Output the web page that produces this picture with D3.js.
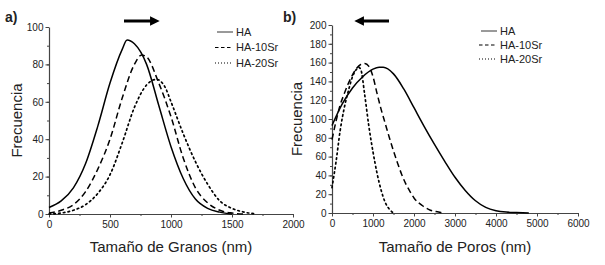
<!DOCTYPE html>
<html>
<head>
<meta charset="utf-8">
<script src="https://cdn.jsdelivr.net/npm/d3@7"></script>
<style>
body { margin:0; background:#fff; }
svg text { font-family: "Liberation Sans", Arial, sans-serif; fill:#222; }
.axis path, .axis line { stroke:#444; }
</style>
</head>
<body>
<div id="graph"></div>
<script>
// series names
const seriesNames = ["HA", "HA-10Sr", "HA-20Sr"];

// a) grain size distribution  [nm, frecuencia]
const granosHA = [[0,3.5],[100,7],[200,14],[300,27],[400,47],[500,70],[600,88],[640,93],[700,91],[800,80],[900,58],[1000,36],[1100,19],[1200,8],[1300,3],[1400,1],[1500,0]];
const granos10Sr = [[0,0.5],[100,2],[200,5],[300,12],[400,24],[500,40],[600,62],[700,80],[760,85],[800,84],[900,70],[1000,52],[1100,30],[1200,14],[1300,6],[1400,2],[1500,0.5],[1600,0]];
const granos20Sr = [[0,0],[100,0.5],[200,2],[300,5],[400,11],[500,21],[600,38],[700,57],[800,69],[880,72],[950,68],[1000,60],[1100,43],[1200,28],[1300,16],[1400,7],[1500,3],[1600,1],[1700,0]];

// b) pore size distribution
const porosHA = [[0,93],[250,116],[500,133],[750,145],[1000,153],[1150,155],[1250,155],[1500,148],[1750,132],[2000,112],[2250,92],[2500,73],[2750,55],[3000,38],[3250,24],[3500,13],[3750,6],[4000,2.5],[4250,1],[4500,0.5],[4800,0]];
const poros10Sr = [[0,78],[100,98],[200,115],[300,127],[400,138],[500,147],[600,154],[700,158],[800,159],[900,156],[1000,145],[1100,127],[1200,110],[1300,95],[1400,80],[1500,66],[1600,53],[1700,41],[1800,31],[1900,23],[2000,16],[2200,8],[2400,3],[2600,1],[2700,0]];
const poros20Sr = [[0,27],[100,55],[200,88],[300,112],[400,130],[500,145],[600,153],[650,155],[700,153],[800,125],[900,92],[1000,65],[1100,42],[1200,24],[1300,11],[1400,4],[1500,0]];

// ticks
const granosXTicks = [0,500,1000,1500,2000];
const granosYTicks = [0,20,40,60,80,100];
const porosXTicks = [0,1000,2000,3000,4000,5000,6000];
const porosYTicks = [0,20,40,60,80,100,120,140,160,180,200];

const width = 605, height = 265;
const dashes = ["none", "6,3.5", "1.6,3.2"];

const graph = d3.select("div#graph").append("svg")
	.attr("width", width)
	.attr("height", height);

// arrow head
graph.append("defs").append("marker")
	.attr("id", "head")
	.attr("viewBox", "0 0 10 10")
	.attr("refX", 2).attr("refY", 5)
	.attr("markerWidth", 3.2).attr("markerHeight", 3.2)
	.attr("orient", "auto")
	.append("path").attr("d", "M0,0L10,5L0,10z").attr("fill", "#000");

function panel(opt) {
	const xScale = d3.scaleLinear().domain(opt.xDomain).range([opt.left, opt.right]);
	const yScale = d3.scaleLinear().domain(opt.yDomain).range([opt.bottom, opt.top]);

	// minor ticks
	graph.append("g").attr("class", "axis")
		.attr("transform", `translate(0,${opt.bottom})`)
		.call(d3.axisBottom(xScale).tickValues(d3.range(opt.xDomain[0], opt.xDomain[1] + 1, opt.xMinor)).tickSize(2).tickFormat(""))
		.select(".domain").remove();
	graph.append("g").attr("class", "axis")
		.attr("transform", `translate(${opt.left},0)`)
		.call(d3.axisLeft(yScale).tickValues(d3.range(opt.yDomain[0], opt.yDomain[1] + 1, opt.yMinor)).tickSize(2).tickFormat(""))
		.select(".domain").remove();

	const xAxis = graph.append("g").attr("class", "axis")
		.attr("transform", `translate(0,${opt.bottom})`)
		.call(d3.axisBottom(xScale).tickValues(opt.xTicks).tickFormat(d3.format("d")).tickSize(3.5).tickSizeOuter(0).tickPadding(3));
	xAxis.selectAll("text").style("font-size", "10px");

	const yAxis = graph.append("g").attr("class", "axis")
		.attr("transform", `translate(${opt.left},0)`)
		.call(d3.axisLeft(yScale).tickValues(opt.yTicks).tickFormat(d3.format("d")).tickSize(3.5).tickSizeOuter(0).tickPadding(2));
	yAxis.selectAll("text").style("font-size", "10px");
	graph.selectAll(".axis .domain").attr("stroke-width", 1.2);

	const line = d3.line()
		.curve(d3.curveMonotoneX)
		.x(d => xScale(d[0]))
		.y(d => yScale(d[1]));

	opt.data.forEach((s, i) => {
		graph.append("path").datum(s)
			.attr("fill", "none")
			.attr("stroke", "#000")
			.attr("stroke-width", i == 2 ? 1.7 : 1.5)
			.attr("stroke-linecap", i == 2 ? "round" : "butt")
			.attr("stroke-dasharray", dashes[i])
			.attr("d", line);
	});

	// legend
	const legend = graph.selectAll(null).data(seriesNames).enter()
		.append("g")
		.attr("transform", (d, i) => `translate(${opt.legendX},${opt.legendY + i * opt.legendStep})`);
	legend.append("line")
		.attr("x1", (d, i) => i == 0 ? 2 : 0).attr("x2", 18)
		.attr("stroke", "#000")
		.attr("stroke-width", (d, i) => i == 0 ? 0.8 : 1.2)
		.attr("stroke-dasharray", (d, i) => i == 0 ? "none" : (i == 1 ? "3.5,2.5" : "1,2"));
	legend.append("text")
		.attr("x", 21).attr("dy", "0.35em")
		.style("font-size", "11px")
		.text(d => d);

	// arrow
	graph.append("line")
		.attr("x1", opt.arrow[0]).attr("x2", opt.arrow[1])
		.attr("y1", 21).attr("y2", 21)
		.attr("stroke", "#000").attr("stroke-width", 3)
		.attr("marker-end", "url(#head)");

	graph.append("text")
		.attr("x", opt.tagX).attr("y", 22)
		.style("font-size", "14px").style("font-weight", "bold")
		.text(opt.tag);

	graph.append("text")
		.attr("transform", `translate(${opt.yLabelX},${(opt.top + opt.bottom) / 2}) rotate(-90)`)
		.attr("text-anchor", "middle")
		.style("font-size", "15px")
		.text("Frecuencia");

	graph.append("text")
		.attr("x", (opt.left + opt.right) / 2).attr("y", 252)
		.attr("text-anchor", "middle")
		.style("font-size", "15px")
		.text(opt.xLabel);
}

panel({
	xDomain: [0, 2000], yDomain: [0, 100],
	left: 49, right: 293, top: 27, bottom: 214,
	xTicks: granosXTicks, yTicks: granosYTicks, xMinor: 250, yMinor: 10,
	data: [granosHA, granos10Sr, granos20Sr],
	legendX: 215, legendY: 32, legendStep: 15.5,
	arrow: [124, 152],
	tag: "a)", tagX: 5, yLabelX: 22,
	xLabel: "Tamaño de Granos (nm)"
});

panel({
	xDomain: [0, 6000], yDomain: [0, 200],
	left: 332, right: 578, top: 25, bottom: 213,
	xTicks: porosXTicks, yTicks: porosYTicks, xMinor: 500, yMinor: 10,
	data: [porosHA, poros10Sr, poros20Sr],
	legendX: 479, legendY: 31, legendStep: 14,
	arrow: [389, 362],
	tag: "b)", tagX: 283, yLabelX: 302,
	xLabel: "Tamaño de Poros (nm)"
});
</script>
</body>
</html>
